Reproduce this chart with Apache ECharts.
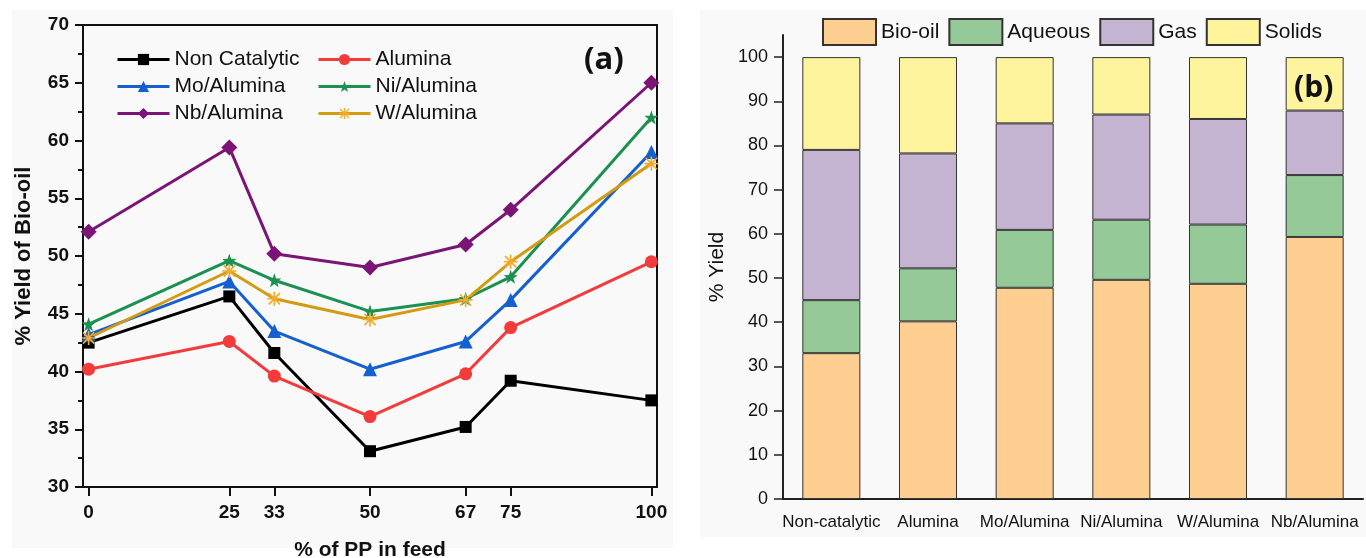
<!DOCTYPE html>
<html>
<head>
<meta charset="utf-8">
<script src="https://cdn.jsdelivr.net/npm/echarts@6/dist/echarts.min.js"></script>
<style>
  html, body { margin: 0; padding: 0; background: #fff; }
  #chart { width: 1366px; height: 558px; }
</style>
</head>
<body>
<div id="chart"></div>
<script>
// (a) % yield of bio-oil vs % PP in feed
const ppFeed = [0, 25, 33, 50, 67, 75, 100];
const nonCatalytic = [42.5, 46.5, 41.6, 33.1, 35.2, 39.2, 37.5];
const alumina = [40.2, 42.6, 39.6, 36.1, 39.8, 43.8, 49.5];
const moAlumina = [43.2, 47.8, 43.5, 40.2, 42.6, 46.2, 59.0];
const niAlumina = [44.1, 49.6, 47.9, 45.2, 46.3, 48.2, 62.0];
const nbAlumina = [52.1, 59.4, 50.2, 49.0, 51.0, 54.0, 65.0];
const wAlumina = [42.9, 48.7, 46.3, 44.5, 46.2, 49.5, 58.0];

// (b) product distribution
const catalysts = ["Non-catalytic", "Alumina", "Mo/Alumina", "Ni/Alumina", "W/Alumina", "Nb/Alumina"];
const bioOil = [33.0, 40.2, 47.8, 49.6, 48.7, 59.3];
const aqueous = [12.0, 12.0, 13.1, 13.6, 13.4, 14.0];
const gas = [34.0, 26.0, 24.1, 23.8, 23.9, 14.6];
const solids = [21.0, 21.8, 15.0, 13.0, 14.0, 12.1];
const yieldTicks = [0, 10, 20, 30, 40, 50, 60, 70, 80, 90, 100];

const FONT = "'Liberation Sans', Arial, sans-serif";
const starPath = "path://M5,0 L6.18,3.38 L9.76,3.45 L6.9,5.62 L7.94,9.05 L5,7 L2.06,9.05 L3.1,5.62 L0.24,3.45 L3.82,3.38 Z";
const asteriskPath = "path://M0,4.4 L10,4.4 L10,5.6 L0,5.6 Z M4.4,0 L5.6,0 L5.6,10 L4.4,10 Z M0.6,1.4 L1.4,0.6 L9.4,8.6 L8.6,9.4 Z M8.6,0.6 L9.4,1.4 L1.4,9.4 L0.6,8.6 Z";

const pair = (ys) => ppFeed.map((x, i) => [x, ys[i]]);

function lineSeries(name, ys, color, symbol, size, markColor) {
  return {
    name: name,
    type: "line",
    xAxisIndex: 0,
    yAxisIndex: 0,
    data: pair(ys),
    symbol: symbol,
    symbolSize: size,
    lineStyle: { color: color, width: 3 },
    itemStyle: { color: markColor || color },
    emphasis: { disabled: true },
  };
}

function barSeries(name, vals, color) {
  return {
    name: name,
    type: "bar",
    stack: "yield",
    xAxisIndex: 1,
    yAxisIndex: 1,
    data: vals,
    barWidth: 58,
    itemStyle: { color: color, borderColor: "#333", borderWidth: 1 },
    emphasis: { disabled: true },
  };
}

const chart = echarts.init(document.getElementById("chart"));
chart.setOption({
  animation: false,
  graphic: [
    { type: "rect", z: -10, shape: { x: 12, y: 10, width: 661, height: 538 }, style: { fill: "#f9f9f9" } },
    { type: "rect", z: -10, shape: { x: 700, y: 10, width: 666, height: 527 }, style: { fill: "#f9f9f9" } },
    { type: "text", left: 584, top: 45, z: 10, style: { text: "(a)", font: "bold 31px 'Open Sans', sans-serif", fill: "#111" } },
    { type: "text", left: 1294, top: 73, z: 10, style: { text: "(b)", font: "bold 30px 'Open Sans', sans-serif", fill: "#111" } },
  ],
  grid: [
    { left: 83, top: 25, width: 574, height: 462, outerBoundsMode: "none", containLabel: false, show: true, borderColor: "#111", borderWidth: 2, backgroundColor: "transparent" },
    { left: 783, top: 35, width: 580, height: 464, outerBoundsMode: "none", containLabel: false },
  ],
  legend: [
    {
      data: ["Non Catalytic", "Mo/Alumina", "Nb/Alumina"],
      orient: "vertical", left: 111, top: 44,
      itemWidth: 52, itemHeight: 14, itemGap: 6,
      lineStyle: { width: 3 },
      textStyle: { fontFamily: FONT, fontSize: 21, color: "#111" },
      selectedMode: false,
    },
    {
      data: ["Alumina", "Ni/Alumina", "W/Alumina"],
      orient: "vertical", left: 312, top: 44,
      itemWidth: 52, itemHeight: 14, itemGap: 6,
      lineStyle: { width: 3 },
      textStyle: { fontFamily: FONT, fontSize: 21, color: "#111" },
      selectedMode: false,
    },
    {
      data: ["Bio-oil", "Aqueous", "Gas", "Solids"],
      orient: "horizontal", left: 817, top: 13,
      itemWidth: 53, itemHeight: 26, itemGap: 9,
      icon: "rect",
      textStyle: { fontFamily: FONT, fontSize: 21, color: "#111" },
      selectedMode: false,
    },
  ],
  xAxis: [
    {
      type: "value",
      gridIndex: 0,
      min: -1,
      max: 101,
      name: "% of PP in feed",
      nameLocation: "middle",
      nameGap: 53,
      nameTextStyle: { fontFamily: FONT, fontSize: 21, fontWeight: "bold", color: "#111" },
      axisLine: { onZero: false, lineStyle: { color: "#111", width: 2 } },
      axisTick: { show: true, customValues: ppFeed, length: 9, lineStyle: { color: "#111", width: 2 } },
      axisLabel: { customValues: ppFeed, fontFamily: FONT, fontSize: 19, fontWeight: "bold", color: "#111", margin: 16 },
      splitLine: { show: false },
    },
    {
      type: "category",
      gridIndex: 1,
      data: catalysts,
      axisLine: { lineStyle: { color: "#222", width: 2 } },
      axisTick: { alignWithLabel: true, length: 8, lineStyle: { color: "#222", width: 1.5 } },
      axisLabel: { fontFamily: FONT, fontSize: 17, color: "#111", margin: 15, interval: 0 },
    },
  ],
  yAxis: [
    {
      type: "value",
      gridIndex: 0,
      min: 30,
      max: 70,
      interval: 5,
      name: "% Yield of Bio-oil",
      nameLocation: "middle",
      nameGap: 48,
      nameTextStyle: { fontFamily: FONT, fontSize: 22, fontWeight: "bold", color: "#111" },
      axisLine: { show: true, onZero: false, lineStyle: { color: "#111", width: 2 } },
      axisTick: { show: true, length: 8, lineStyle: { color: "#111", width: 2 } },
      minorTick: { show: true, splitNumber: 2, length: 5, lineStyle: { color: "#111", width: 2 } },
      axisLabel: { fontFamily: FONT, fontSize: 19, fontWeight: "bold", color: "#111", margin: 14 },
      splitLine: { show: false },
    },
    {
      type: "value",
      gridIndex: 1,
      min: 0,
      max: 105,
      name: "% Yield",
      nameLocation: "middle",
      nameGap: 55,
      nameTextStyle: { fontFamily: FONT, fontSize: 21, color: "#111" },
      axisLine: { show: true, onZero: false, lineStyle: { color: "#222", width: 2 } },
      axisTick: { show: true, customValues: yieldTicks, length: 9, lineStyle: { color: "#222", width: 1.5 } },
      axisLabel: { customValues: yieldTicks, fontFamily: FONT, fontSize: 18, color: "#111", margin: 15 },
      splitLine: { show: false },
    },
  ],
  series: [
    lineSeries("Non Catalytic", nonCatalytic, "#000000", "rect", 12),
    lineSeries("Alumina", alumina, "#f43b3b", "circle", 13),
    lineSeries("Mo/Alumina", moAlumina, "#1560d0", "triangle", 14),
    lineSeries("Ni/Alumina", niAlumina, "#1a9150", starPath, 14),
    lineSeries("Nb/Alumina", nbAlumina, "#7c1475", "diamond", 16),
    lineSeries("W/Alumina", wAlumina, "#d39b12", asteriskPath, 14, "#f2aa2e"),
    barSeries("Bio-oil", bioOil, "#fecf90"),
    barSeries("Aqueous", aqueous, "#95ca98"),
    barSeries("Gas", gas, "#c5b3d2"),
    barSeries("Solids", solids, "#fef49e"),
  ],
});
</script>
</body>
</html>
